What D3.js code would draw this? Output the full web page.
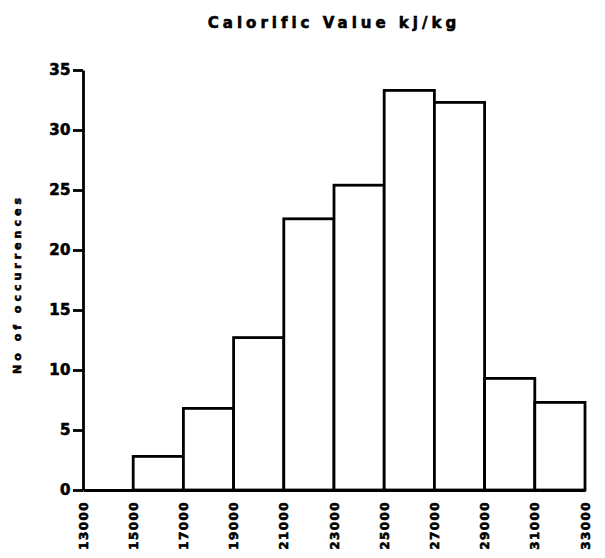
<!DOCTYPE html>
<html>
<head>
<meta charset="utf-8">
<script src="https://cdn.jsdelivr.net/npm/d3@7"></script>
<style>
  html, body { margin: 0; padding: 0; background: #fff; }
  svg { display: block; }
  text { font-family: "DejaVu Sans", sans-serif; font-weight: bold; fill: #000; stroke: #000; stroke-width: 0.6px; }
</style>
</head>
<body>
<svg id="chart" width="605" height="558"></svg>
<script>
// Histogram bins (kJ/kg): lower edge of each 2000-wide bin and its count
const binStarts = [13000, 15000, 17000, 19000, 21000, 23000, 25000, 27000, 29000, 31000];
const binWidth = 2000;
const counts = [0, 2.8, 6.8, 12.7, 22.6, 25.4, 33.3, 32.3, 9.3, 7.3];
const xTickValues = [13000, 15000, 17000, 19000, 21000, 23000, 25000, 27000, 29000, 31000, 33000];
const xTickLabels = ["13000", "15000", "17000", "19000", "21000", "23000", "25000", "27000", "29000", "31000", "33000"];
const yTickValues = [0, 5, 10, 15, 20, 25, 30, 35];

const svg = d3.select("#chart");

const x = d3.scaleLinear().domain([13000, 33000]).range([83, 585]);
const y = d3.scaleLinear().domain([0, 35]).range([490, 70]);

const ink = "#000";
const stroke = 2.8;

// Bars
svg.append("g")
  .selectAll("rect")
  .data(binStarts.map((s, i) => ({ s, c: counts[i] })).filter(d => d.c > 0))
  .join("rect")
  .attr("x", d => x(d.s))
  .attr("y", d => y(d.c))
  .attr("width", d => x(d.s + binWidth) - x(d.s))
  .attr("height", d => y(0) - y(d.c))
  .attr("fill", "#fff")
  .attr("stroke", ink)
  .attr("stroke-width", stroke);

// Y axis
const yAxis = svg.append("g")
  .attr("transform", `translate(${x(13000)},0)`)
  .call(d3.axisLeft(y).tickValues(yTickValues).tickSize(10).tickSizeOuter(0).tickPadding(2));
yAxis.select(".domain").attr("stroke", ink).attr("stroke-width", stroke);
yAxis.selectAll(".tick line").attr("stroke", ink).attr("stroke-width", stroke);
yAxis.selectAll(".tick text")
  .attr("font-size", 15)
  .attr("letter-spacing", 0.5)
  .attr("font-family", "DejaVu Sans, sans-serif")
  .attr("font-weight", "bold")
  .attr("fill", ink);

// X axis
const xAxis = svg.append("g")
  .attr("transform", `translate(0,${y(0)})`)
  .call(d3.axisBottom(x).tickValues(xTickValues)
    .tickFormat((d, i) => xTickLabels[i]).tickSize(0).tickSizeOuter(0).tickPadding(0));
xAxis.select(".domain").attr("stroke", ink).attr("stroke-width", stroke);
xAxis.selectAll(".tick text")
  .attr("font-size", 12)
  .attr("letter-spacing", 1.4)
  .attr("font-family", "DejaVu Sans, sans-serif")
  .attr("font-weight", "bold")
  .attr("fill", ink)
  .attr("text-anchor", "end")
  .attr("dy", null)
  .attr("y", 0)
  .attr("transform", "translate(4,11) rotate(-90)");

// Title
svg.append("text")
  .attr("x", 334)
  .attr("y", 28)
  .attr("text-anchor", "middle")
  .attr("font-size", 15)
  .attr("letter-spacing", 4)
  .text("Calorific Value kj/kg");

// Y axis title
svg.append("text")
  .attr("transform", "translate(21,284) rotate(-90)")
  .attr("text-anchor", "middle")
  .attr("font-size", 11)
  .attr("letter-spacing", 4)
  .text("No of occurrences");
</script>
</body>
</html>
